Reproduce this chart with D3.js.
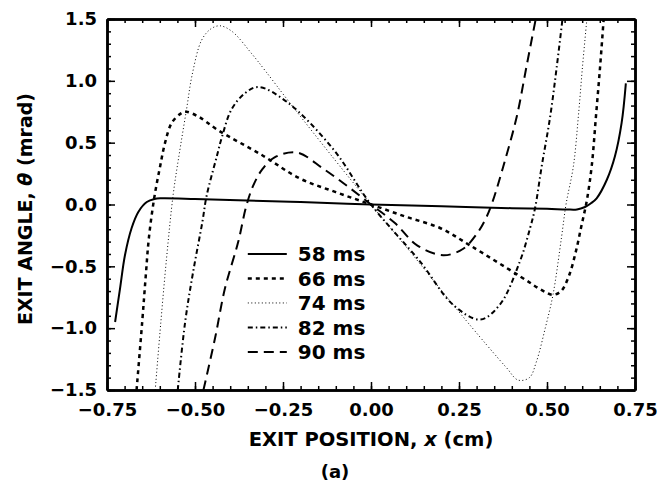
<!DOCTYPE html>
<html>
<head>
<meta charset="utf-8">
<script src="https://cdn.jsdelivr.net/npm/d3@7"></script>
<style>
  body { margin: 0; background: #fff; }
  svg { font-family: "DejaVu Sans", sans-serif; font-weight: bold; }
</style>
</head>
<body>
<div id="chart"></div>
<script>
// exit angle vs exit position, one series per time
const series58x = [-0.727, -0.713, -0.699, -0.68, -0.661, -0.637, -0.615, -0.595, -0.5, -0.377, -0.2, 0, 0.2, 0.4, 0.5, 0.556, 0.585, 0.608, 0.625, 0.641, 0.67, 0.693, 0.712, 0.724];
const series58y = [-0.95, -0.68, -0.41, -0.19, -0.06, 0.02, 0.045, 0.05, 0.045, 0.035, 0.02, 0, -0.015, -0.03, -0.035, -0.04, -0.04, -0.02, 0.01, 0.05, 0.20, 0.39, 0.66, 0.98];

const series66x = [-0.666, -0.650, -0.640, -0.631, -0.616, -0.599, -0.585, -0.566, -0.538, -0.524, -0.49, -0.434, -0.31, -0.202, -0.1, 0, 0.1, 0.196, 0.281, 0.423, 0.49, 0.517, 0.54, 0.562, 0.582, 0.598, 0.613, 0.627, 0.639, 0.651, 0.661];
const series66y = [-1.5, -0.95, -0.58, -0.27, 0.05, 0.31, 0.50, 0.66, 0.74, 0.75, 0.71, 0.60, 0.40, 0.21, 0.1, 0, -0.1, -0.19, -0.33, -0.58, -0.70, -0.73, -0.70, -0.58, -0.38, -0.17, 0.03, 0.31, 0.71, 1.12, 1.5];

const series74x = [-0.613, -0.597, -0.58, -0.562, -0.543, -0.524, -0.508, -0.481, -0.455, -0.429, -0.395, -0.339, -0.30, -0.23, -0.108, 0, 0.108, 0.233, 0.33, 0.385, 0.418, 0.45, 0.47, 0.495, 0.517, 0.541, 0.554, 0.575, 0.589, 0.601, 0.613];
const series74y = [-1.5, -0.95, -0.41, 0.08, 0.44, 0.77, 1.05, 1.33, 1.42, 1.445, 1.40, 1.22, 1.08, 0.82, 0.38, 0, -0.37, -0.81, -1.14, -1.32, -1.42, -1.40, -1.27, -1.0, -0.73, -0.27, 0, 0.31, 0.71, 1.12, 1.49];

const series82x = [-0.549, -0.528, -0.505, -0.479, -0.467, -0.438, -0.424, -0.396, -0.358, -0.32, -0.239, -0.108, 0, 0.139, 0.233, 0.31, 0.366, 0.423, 0.452, 0.466, 0.485, 0.509, 0.528, 0.544];
const series82y = [-1.5, -0.95, -0.54, -0.14, 0.07, 0.39, 0.54, 0.77, 0.90, 0.95, 0.83, 0.45, 0, -0.46, -0.81, -0.93, -0.81, -0.46, -0.19, -0.03, 0.31, 0.71, 1.12, 1.5];

const series90x = [-0.476, -0.443, -0.415, -0.377, -0.355, -0.335, -0.31, -0.275, -0.21, -0.136, -0.068, 0, 0.068, 0.131, 0.205, 0.261, 0.30, 0.325, 0.345, 0.376, 0.414, 0.442, 0.468];
const series90y = [-1.5, -1.08, -0.68, -0.30, -0.02, 0.15, 0.28, 0.38, 0.42, 0.29, 0.15, 0, -0.15, -0.33, -0.41, -0.36, -0.24, -0.12, 0.02, 0.31, 0.71, 1.12, 1.5];

const legendLabels = ["58 ms", "66 ms", "74 ms", "82 ms", "90 ms"];
const xTicks = [-0.75, -0.5, -0.25, 0, 0.25, 0.5, 0.75];
const yTicks = [-1.5, -1.0, -0.5, 0, 0.5, 1.0, 1.5];

const seriesList = [
  { x: series58x, y: series58y, dash: null, width: 2 },
  { x: series66x, y: series66y, dash: "4,4", width: 2.5 },
  { x: series74x, y: series74y, dash: "1,2.5", width: 1 },
  { x: series82x, y: series82y, dash: "5,3,1.5,3", width: 2 },
  { x: series90x, y: series90y, dash: "10,6", width: 2 }
];

const width = 657, height = 486;
const margin = { top: 19, right: 22, bottom: 96, left: 107 };
const innerW = width - margin.left - margin.right;
const innerH = height - margin.top - margin.bottom;

const svg = d3.select("#chart").append("svg")
  .attr("width", width)
  .attr("height", height);

const g = svg.append("g")
  .attr("transform", `translate(${margin.left}, ${margin.top})`);

const xScale = d3.scaleLinear().domain([-0.75, 0.75]).range([0, innerW]);
const yScale = d3.scaleLinear().domain([-1.5, 1.5]).range([innerH, 0]);

// minor ticks
const xMinor = d3.range(-0.75, 0.7501, 0.05);
const yMinor = d3.range(-1.5, 1.5001, 0.1);

function styleAxis(sel) {
  sel.selectAll(".domain").attr("stroke-width", 2.5);
  sel.selectAll(".tick line").attr("stroke-width", 1.5);
  sel.selectAll("text").attr("font-size", 18).attr("fill", "#000")
    .attr("font-family", "DejaVu Sans").attr("font-weight", "bold");
}

g.append("g").attr("transform", `translate(0, ${innerH})`)
  .call(d3.axisBottom(xScale).tickValues(xMinor).tickSize(-4).tickSizeOuter(0).tickFormat(""))
  .call(styleAxis);
g.append("g").attr("transform", `translate(0, ${innerH})`)
  .call(d3.axisBottom(xScale).tickValues(xTicks).tickSize(-8).tickSizeOuter(0).tickPadding(13).tickFormat(d3.format(".2f")))
  .call(styleAxis);
g.append("g")
  .call(d3.axisTop(xScale).tickValues(xMinor).tickSize(-4).tickSizeOuter(0).tickFormat(""))
  .call(styleAxis);
g.append("g")
  .call(d3.axisTop(xScale).tickValues(xTicks).tickSize(-8).tickSizeOuter(0).tickFormat(""))
  .call(styleAxis);

g.append("g")
  .call(d3.axisLeft(yScale).tickValues(yMinor).tickSize(-4).tickSizeOuter(0).tickFormat(""))
  .call(styleAxis);
g.append("g")
  .call(d3.axisLeft(yScale).tickValues(yTicks).tickSize(-8).tickSizeOuter(0).tickPadding(10).tickFormat(d3.format(".1f")))
  .call(styleAxis);
g.append("g").attr("transform", `translate(${innerW}, 0)`)
  .call(d3.axisRight(yScale).tickValues(yMinor).tickSize(-4).tickSizeOuter(0).tickFormat(""))
  .call(styleAxis);
g.append("g").attr("transform", `translate(${innerW}, 0)`)
  .call(d3.axisRight(yScale).tickValues(yTicks).tickSize(-8).tickSizeOuter(0).tickFormat(""))
  .call(styleAxis);

// clip curves to plot box
svg.append("defs").append("clipPath").attr("id", "plotClip")
  .append("rect").attr("width", innerW).attr("height", innerH);

const line = d3.line()
  .x(d => xScale(d[0]))
  .y(d => yScale(d[1]))
  .curve(d3.curveCatmullRom.alpha(0.5));

const curves = g.append("g").attr("clip-path", "url(#plotClip)");
seriesList.forEach(s => {
  const pts = s.x.map((v, i) => [v, s.y[i]]);
  curves.append("path")
    .attr("d", line(pts))
    .attr("fill", "none")
    .attr("stroke", "#000")
    .attr("stroke-width", s.width)
    .attr("stroke-dasharray", s.dash);
});

// legend
const legend = g.append("g").attr("transform", `translate(${xScale(-0.35)}, ${yScale(-0.4)})`);
seriesList.forEach((s, i) => {
  const row = legend.append("g").attr("transform", `translate(0, ${i * 24.5})`);
  row.append("line")
    .attr("x1", 0).attr("x2", 39).attr("y1", 0).attr("y2", 0)
    .attr("stroke", "#000")
    .attr("stroke-width", s.width)
    .attr("stroke-dasharray", s.dash);
  row.append("text")
    .attr("x", 50).attr("y", 0).attr("dy", "0.36em")
    .attr("font-size", 20)
    .text(legendLabels[i]);
});

// axis titles
svg.append("text")
  .attr("x", 371).attr("y", 446)
  .attr("text-anchor", "middle")
  .attr("font-size", 19.5)
  .html('EXIT POSITION, <tspan font-style="italic">x</tspan> (cm)');

svg.append("text")
  .attr("transform", "translate(32, 209) rotate(-90)")
  .attr("text-anchor", "middle")
  .attr("font-size", 19)
  .html('EXIT ANGLE, <tspan font-style="italic">θ</tspan> (mrad)');

svg.append("text")
  .attr("x", 335).attr("y", 478)
  .attr("text-anchor", "middle")
  .attr("font-size", 18)
  .text("(a)");
</script>
</body>
</html>
